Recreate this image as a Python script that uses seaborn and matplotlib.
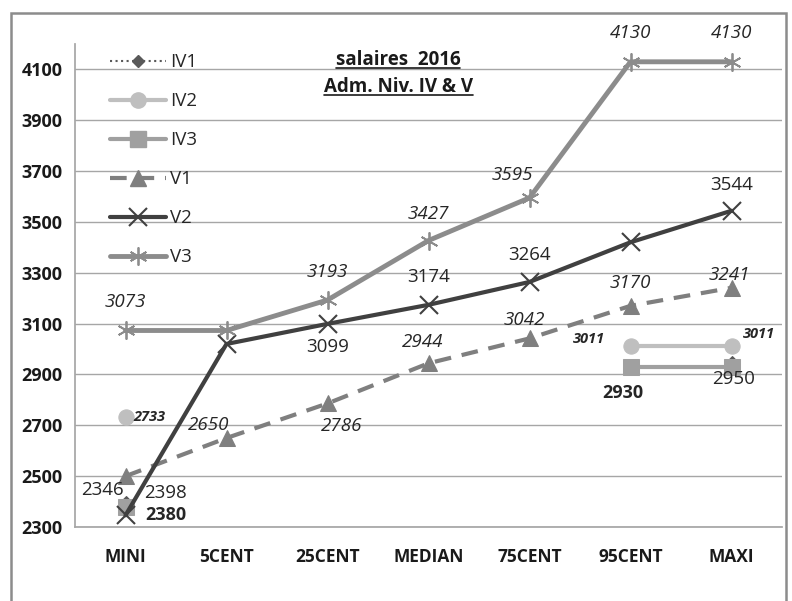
import numpy as np
import pandas as pd
import matplotlib
matplotlib.use("Agg")
import matplotlib.pyplot as plt
import seaborn as sns
from matplotlib.lines import Line2D
from matplotlib.patches import Rectangle

# Données du graphique
categories = ["MINI", "5CENT", "25CENT", "MEDIAN", "75CENT", "95CENT", "MAXI"]
nan = np.nan
iv1 = [2398, nan, nan, nan, nan, nan, 2950]
iv2 = [2733, nan, nan, nan, nan, 3011, 3011]
iv3 = [2380, nan, nan, nan, nan, 2930, 2930]
v1 = [2500, 2650, 2786, 2944, 3042, 3170, 3241]
v2 = [2346, 3020, 3099, 3174, 3264, 3420, 3544]
v3 = [3073, 3073, 3193, 3427, 3595, 4130, 4130]
y_ticks = [2300, 2500, 2700, 2900, 3100, 3300, 3500, 3700, 3900, 4100]

series = {"IV1": iv1, "IV2": iv2, "IV3": iv3, "V1": v1, "V2": v2, "V3": v3}

sns.set_theme(style="white")
plt.rcParams["font.family"] = ["Open Sans", "DejaVu Sans"]

styles = {
    "IV1": dict(color="#595959", linestyle=":", linewidth=1.5, marker="D", markersize=6),
    "IV2": dict(color="#BFBFBF", linestyle="-", linewidth=3, marker="o", markersize=11),
    "IV3": dict(color="#A0A0A0", linestyle="-", linewidth=3, marker="s", markersize=11),
    "V1": dict(color="#7F7F7F", linestyle=(0, (4, 2.6)), linewidth=3, marker="^", markersize=12),
    "V2": dict(color="#404040", linestyle="-", linewidth=3, marker="x", markersize=13,
               markeredgewidth=1.5),
    "V3": dict(color="#8C8C8C", linestyle="-", linewidth=3.5, marker=(6, 2, 0), markersize=13,
               markeredgewidth=1.3),
}

fig = plt.figure(figsize=(7.92, 6.01), dpi=100)
ax = fig.add_axes([75 / 792, 1 - 527 / 601, 707 / 792, 483 / 601])

x_pos = np.arange(len(categories))
handles = []
for name, vals in series.items():
    df = pd.DataFrame({"x": x_pos, "y": vals})
    # découper en segments continus (les trous ne sont pas reliés)
    seg = df["y"].isna().cumsum()
    df = df.assign(seg=seg).dropna()
    st = styles[name]
    for _, part in df.groupby("seg"):
        sns.lineplot(data=part, x="x", y="y", ax=ax, markeredgecolor=st["color"], **st)
    handles.append(Line2D([], [], markeredgecolor=st["color"], **st))

# étiquettes de données : (série, index, décalage en pixels, style)
labels = [
    ("V3", 0, (0, 28), "it"), ("V3", 2, (0, 28), "it"), ("V3", 3, (0, 27), "it"),
    ("V3", 4, (-17, 23), "it"), ("V3", 5, (0, 29), "it"), ("V3", 6, (0, 29), "it"),
    ("V2", 0, (-23, 25), "reg"), ("V2", 2, (0, -23), "reg"), ("V2", 3, (0, 28), "reg"),
    ("V2", 4, (0, 27), "reg"), ("V2", 6, (0, 26), "reg"),
    ("V1", 1, (-18, 13), "it"), ("V1", 2, (14, -23), "it"), ("V1", 3, (-6, 21), "it"),
    ("V1", 4, (-5, 18), "it"), ("V1", 5, (0, 23), "it"), ("V1", 6, (-2, 13), "it"),
    ("IV1", 0, (40, 9), "reg"), ("IV1", 6, (2, -17), "reg"),
    ("IV2", 0, (24, 0), "bis"), ("IV2", 5, (-42, 7), "bis"), ("IV2", 6, (27, 12), "bis"),
    ("IV3", 0, (40, -8), "bold"), ("IV3", 5, (-8, -26), "bold"),
]
fonts = {
    "it": dict(fontsize=13.5, fontstyle="italic"),
    "reg": dict(fontsize=13.5),
    "bold": dict(fontsize=13, fontweight="bold"),
    "bis": dict(fontsize=10.5, fontweight="bold", fontstyle="italic"),
}
for name, i, off, kind in labels:
    val = series[name][i]
    ax.annotate(f"{val:.0f}", (x_pos[i], val), xytext=off, textcoords="offset pixels",
                ha="center", va="center", color="#262626", zorder=10, **fonts[kind])

# axes
ax.set_xlim(-0.5, 6.5)
ax.set_ylim(2300, 4200)
ax.set_yticks(y_ticks)
ax.set_yticklabels([str(t) for t in y_ticks], fontweight="bold", fontsize=13, color="#1a1a1a")
ax.set_xticks(x_pos)
ax.set_xticklabels(categories, fontweight="bold", fontsize=12.5, color="#1a1a1a")
ax.set_xticks(np.arange(-0.5, 7, 1), minor=True)
ax.tick_params(axis="x", which="major", length=0, pad=15)
ax.tick_params(axis="x", which="minor", length=5, color="#A6A6A6", width=1, direction="out")
ax.tick_params(axis="y", length=5, color="#A6A6A6", width=1, direction="out", pad=4)
ax.grid(axis="y", color="#A6A6A6", linewidth=1)
ax.set_axisbelow(True)
ax.set_xlabel("")
ax.set_ylabel("")
for s in ["top", "right"]:
    ax.spines[s].set_visible(False)
ax.spines["left"].set_color("#A6A6A6")
ax.spines["bottom"].set_color("#A6A6A6")

ax.legend(handles, list(series.keys()), loc="upper left", bbox_to_anchor=(0.049, 0.981),
          frameon=False, fontsize=13.5, handlelength=3.0, handletextpad=0.2,
          labelspacing=1.12, borderpad=0, borderaxespad=0, labelcolor="#262626")

# titre souligné
t1 = ax.text(0.457, 0.967, "salaires  2016", transform=ax.transAxes, ha="center", va="center",
             fontsize=13.5, fontweight="bold", color="#1a1a1a")
t2 = ax.text(0.457, 0.911, "Adm. Niv. IV & V", transform=ax.transAxes, ha="center", va="center",
             fontsize=13.5, fontweight="bold", color="#1a1a1a")

# cadre extérieur
fig.patches.append(Rectangle((11 / 792, -0.05), 775 / 792, 1.05 - 13 / 601, transform=fig.transFigure,
                             fill=False, edgecolor="#8C8C8C", linewidth=1.8))

fig.canvas.draw()
r = fig.canvas.get_renderer()
inv = fig.transFigure.inverted()
for t in (t1, t2):
    bb = t.get_window_extent(r)
    (xa, ya), (xb, _) = inv.transform([(bb.x0, bb.y0 + 2), (bb.x1, bb.y0 + 2)])
    fig.add_artist(Line2D([xa, xb], [ya, ya], color="#1a1a1a", linewidth=1.2,
                          transform=fig.transFigure))

fig.savefig("out.png", dpi=100)
